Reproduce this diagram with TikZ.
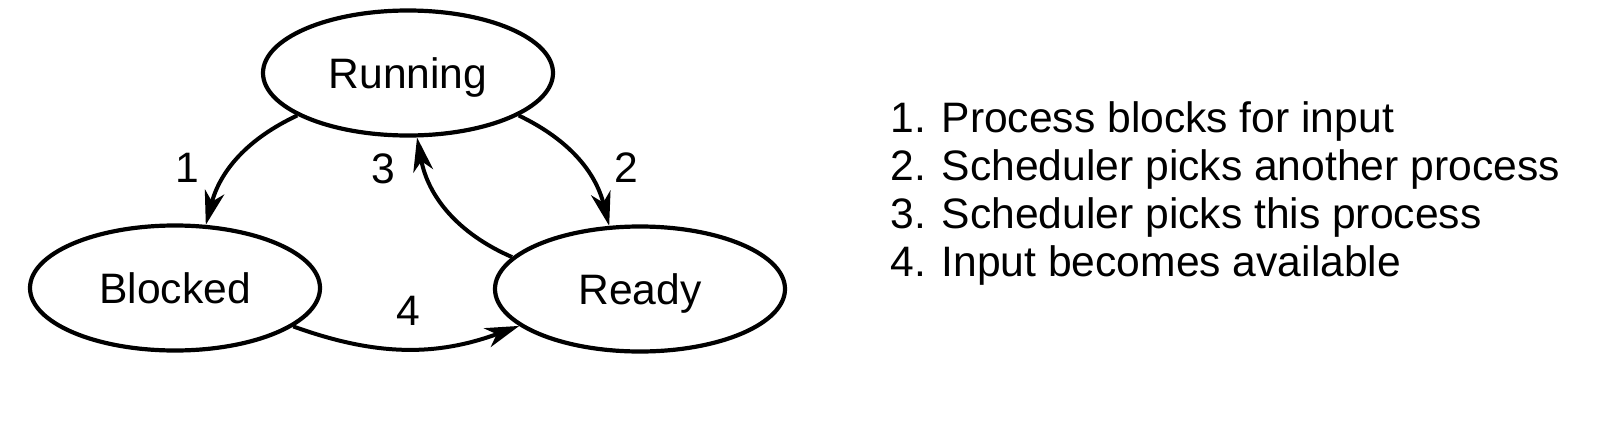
\documentclass[tikz,border=0pt]{standalone}
\usepackage{fontspec}
\setmainfont{Liberation Sans}
\usetikzlibrary{shapes.geometric,arrows.meta}
\begin{document}
\begin{tikzpicture}[x=0.5pt,y=-0.5pt,
  state/.style={ellipse,draw,line width=2.1pt,minimum width=145pt,minimum height=62.5pt,inner sep=0pt,
    text height=15.2pt,text depth=0pt,font=\fontsize{21.3}{24}\selectfont},
  trans/.style={line width=2pt,-{Stealth[length=17pt,width=10pt,inset=5pt]}},
  lbl/.style={font=\fontsize{21.3}{24}\selectfont,inner sep=0pt}]
\useasboundingbox (0,0) rectangle (1597,429);
\node[state] (run) at (408,73) {Running};
\node[state] (blk) at (175,288) {Blocked};
\node[state] (rdy) at (640,289) {Ready};
\draw[trans] (run.201) to[bend right=25] (blk.64);
\draw[trans] (run.339) to[bend left=25] (rdy.116);
\draw[trans] (rdy.166) to[bend left=28] (run.278);
\draw[trans] (blk.342) to[bend right=20] (rdy.197);
\node[lbl] (l1) at (187,168) {1};
\node[lbl] (l3) at (383,169) {3};
\node[lbl] (l2) at (626,168) {2};
\node[lbl] (l4) at (408,311) {4};
\node[lbl,anchor=north west,align=left] (leg) at (890,101)
  {1. Process blocks for input\\2. Scheduler picks another process\\3. Scheduler picks this process\\4. Input becomes available};
\end{tikzpicture}
\end{document}
